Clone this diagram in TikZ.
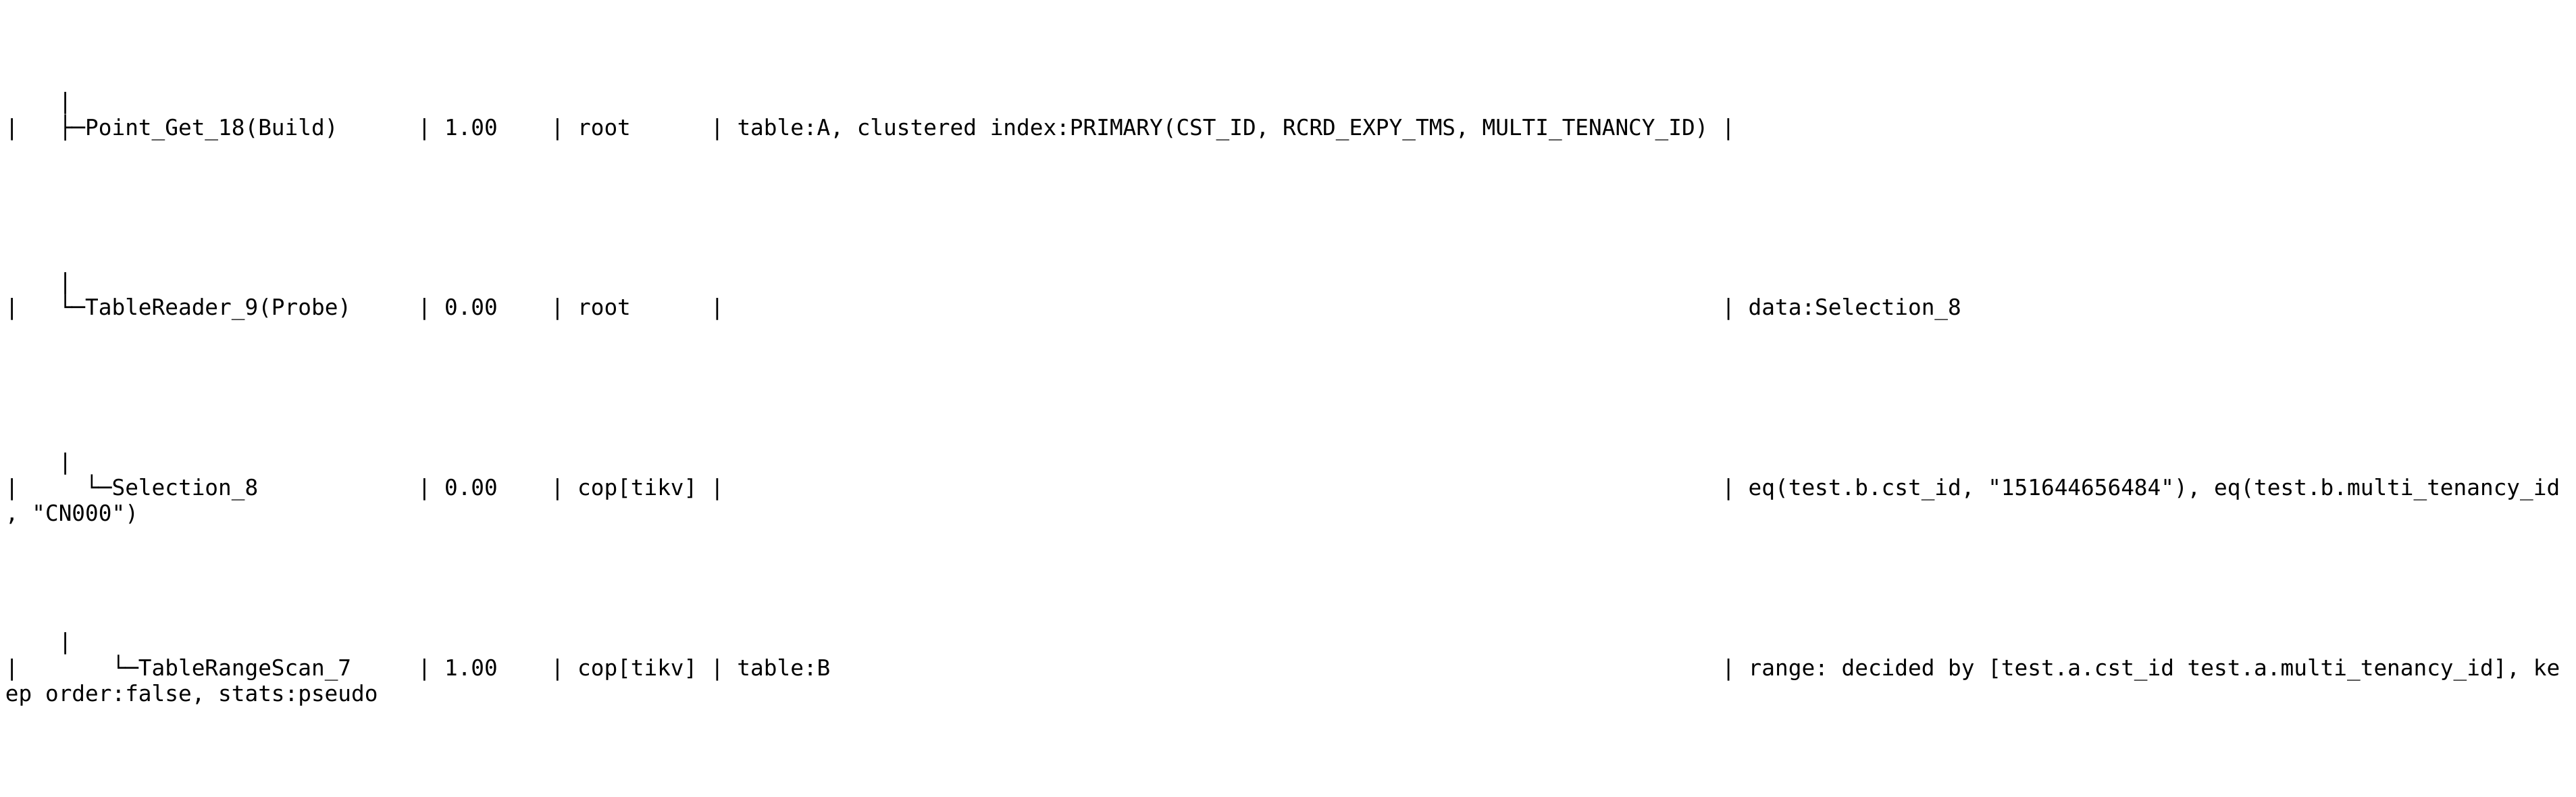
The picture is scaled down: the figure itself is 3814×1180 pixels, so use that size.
\documentclass[tikz,border=0pt]{standalone}
\usepackage{fontspec}
\newfontfamily\planmono{DejaVu Sans Mono}
\frenchspacing
\newcommand\tcell[4]{\node[txt] (#1) at ({8+19.7*#2},{#3}) {#4};}
\begin{document}
\begin{tikzpicture}[x=1pt,y=-1pt,
  txt/.style={anchor=base west,inner sep=0pt,outer sep=0pt,text=black,
    font=\planmono\fontsize{32.72}{38}\selectfont}]
\fill[white] (0,0) rectangle (3814,1180);
\useasboundingbox (0,0) rectangle (3814,1180);
% row 1
\tcell{r1up}{4}{161.9}{|}
\tcell{r1a}{0}{200}{|}
\tcell{r1b}{4}{200}{├─Point\_Get\_18(Build)}
\tcell{r1c}{31}{200}{| 1.00}
\tcell{r1d}{41}{200}{| root}
\tcell{r1e}{53}{200}{| table:A, clustered index:PRIMARY(CST\_ID, RCRD\_EXPY\_TMS, MULTI\_TENANCY\_ID) |}
% row 2
\tcell{r2up}{4}{428.6}{|}
\tcell{r2a}{0}{466.7}{|}
\tcell{r2b}{4}{466.7}{└─TableReader\_9(Probe)}
\tcell{r2c}{31}{466.7}{| 0.00}
\tcell{r2d}{41}{466.7}{| root}
\tcell{r2e}{53}{466.7}{|}
\tcell{r2f}{129}{466.7}{| data:Selection\_8}
% row 3
\tcell{r3up}{4}{695.3}{|}
\tcell{r3a}{0}{733.4}{|}
\tcell{r3b}{6}{733.4}{└─Selection\_8}
\tcell{r3c}{31}{733.4}{| 0.00}
\tcell{r3d}{41}{733.4}{| cop[tikv] |}
\tcell{r3f}{129}{733.4}{| eq(test.b.cst\_id, "151644656484"), eq(test.b.multi\_tenancy\_id}
\tcell{r3g}{0}{771.5}{, "CN000")}
% row 4
\tcell{r4up}{4}{961.9}{|}
\tcell{r4a}{0}{1000}{|}
\tcell{r4b}{8}{1000}{└─TableRangeScan\_7}
\tcell{r4c}{31}{1000}{| 1.00}
\tcell{r4d}{41}{1000}{| cop[tikv] | table:B}
\tcell{r4f}{129}{1000}{| range: decided by [test.a.cst\_id test.a.multi\_tenancy\_id], ke}
\tcell{r4g}{0}{1038.1}{ep order:false, stats:pseudo}
\end{tikzpicture}
\end{document}
